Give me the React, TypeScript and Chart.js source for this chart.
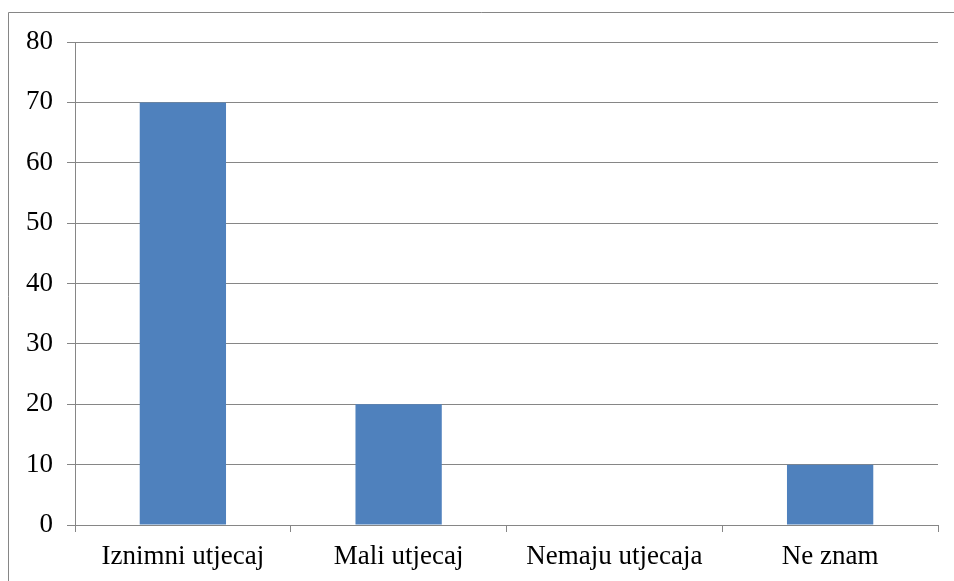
import React, { useEffect, useRef } from "react";
import { Chart, registerables } from "chart.js";

Chart.register(...registerables);

const categories = ["Iznimni utjecaj", "Mali utjecaj", "Nemaju utjecaja", "Ne znam"];
const values = [70, 20, 0, 10];
const yTicks = [0, 10, 20, 30, 40, 50, 60, 70, 80];

const GRID = "#868686";
const FONT = "'Liberation Serif', 'Times New Roman', serif";

const frame = {
  id: "frame",
  beforeDraw(chart: any) {
    const ctx = chart.ctx;
    ctx.save();
    ctx.strokeStyle = GRID;
    ctx.lineWidth = 1;
    ctx.beginPath();
    ctx.moveTo(8.5, chart.height);
    ctx.lineTo(8.5, 12.5);
    ctx.lineTo(chart.width, 12.5);
    ctx.stroke();
    ctx.restore();
  },
};

export default function App() {
  const ref = useRef<HTMLCanvasElement>(null);
  useEffect(() => {
    const chart = new Chart(ref.current!, {
      type: "bar",
      data: {
        labels: categories,
        datasets: [
          {
            data: values,
            backgroundColor: "#4F81BD",
            barPercentage: 0.4,
            categoryPercentage: 1,
          },
        ],
      },
      options: {
        animation: false,
        responsive: false,
        layout: { padding: { left: 0, right: 16, top: 42, bottom: 0 } },
        plugins: { legend: { display: false }, tooltip: { enabled: false } },
        scales: {
          x: {
            offset: true,
            grid: {
              offset: true,
              drawOnChartArea: false,
              drawTicks: true,
              tickLength: 7,
              color: GRID,
            },
            border: { display: true, color: GRID },
            ticks: { font: { family: FONT, size: 27 }, color: "#000", padding: 9 },
            afterFit: (s: any) => {
              s.height = 56;
            },
          },
          y: {
            min: 0,
            max: 80,
            afterBuildTicks: (s: any) => {
              s.ticks = yTicks.map((v) => ({ value: v }));
            },
            grid: { color: GRID, tickLength: 8, drawTicks: true },
            border: { display: true, color: GRID },
            ticks: { font: { family: FONT, size: 27 }, color: "#000", padding: 14 },
            afterFit: (s: any) => {
              s.width = 75;
            },
          },
        },
      },
      plugins: [frame],
    });
    return () => chart.destroy();
  }, []);
  return (
    <div style={{ position: "fixed", left: 0, top: 0, width: 954, height: 581, background: "#fff" }}>
      <canvas ref={ref} width={954} height={581} style={{ display: "block" }} />
    </div>
  );
}
